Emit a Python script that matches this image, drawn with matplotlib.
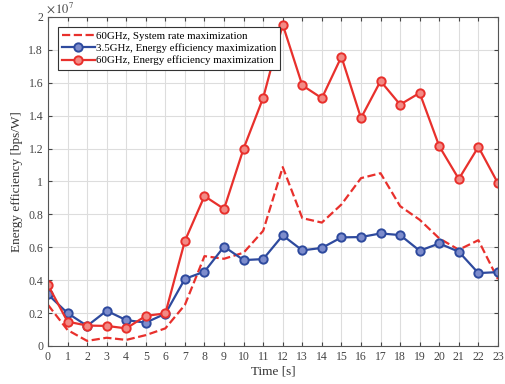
import matplotlib
matplotlib.use("Agg")
import matplotlib.pyplot as plt
from matplotlib.ticker import FuncFormatter

plt.rcParams["font.family"] = ["Liberation Serif", "DejaVu Serif"]
plt.rcParams["mathtext.fontset"] = "stix"

time_s = list(range(24))
rate_60 = [0.25e7, 0.097e7, 0.031e7, 0.05e7, 0.037e7, 0.066e7, 0.107e7, 0.25e7,
           0.546e7, 0.53e7, 0.567e7, 0.70e7, 1.087e7, 0.777e7, 0.75e7, 0.86e7,
           1.02e7, 1.05e7, 0.85e7, 0.767e7, 0.654e7, 0.585e7, 0.643e7, 0.406e7]
ee_35 = [0.313e7, 0.20e7, 0.122e7, 0.214e7, 0.157e7, 0.142e7, 0.196e7, 0.408e7,
         0.452e7, 0.604e7, 0.522e7, 0.528e7, 0.672e7, 0.581e7, 0.596e7, 0.66e7,
         0.662e7, 0.684e7, 0.674e7, 0.579e7, 0.623e7, 0.573e7, 0.443e7, 0.449e7]
ee_60 = [0.371e7, 0.148e7, 0.124e7, 0.122e7, 0.107e7, 0.183e7, 0.198e7, 0.639e7,
         0.911e7, 0.833e7, 1.20e7, 1.508e7, 1.953e7, 1.584e7, 1.506e7, 1.758e7,
         1.385e7, 1.61e7, 1.467e7, 1.538e7, 1.214e7, 1.015e7, 1.21e7, 0.989e7]

labels = ["60GHz, System rate maximization",
          "3.5GHz, Energy efficiency maximization",
          "60GHz, Energy efficiency maximization"]

red = "#E8302C"
blue = "#2E4A9E"

fig = plt.figure(figsize=(5.05, 3.84), dpi=100)
ax = fig.add_axes([0.095, 0.099, 0.891, 0.857])

ax.plot(time_s, rate_60, "--", color=red, lw=1.6, label=labels[0])
ax.plot(time_s, ee_35, "-o", color=blue, lw=1.6, ms=6, mfc="#7d8ccc",
        mec=blue, mew=1.4, label=labels[1])
ax.plot(time_s, ee_60, "-o", color=red, lw=1.6, ms=6, mfc="#f28a85",
        mec=red, mew=1.4, label=labels[2])

ax.set_xlim(0, 23)
ax.set_ylim(0, 2e7)
ax.set_xticks(time_s)
ax.set_yticks([i * 0.2e7 for i in range(11)])
ax.yaxis.set_major_formatter(FuncFormatter(lambda v, p: f"{v / 1e7:g}"))
ax.text(-0.005, 1.005, r"$\times\,10^{7}$", transform=ax.transAxes,
        fontsize=9, color="#444444", ha="left", va="bottom")

ax.grid(True, color="#dddddd", lw=0.8)
ax.tick_params(direction="in", top=True, right=True, labelsize=8.5,
               colors="#444444", length=3)
for s in ax.spines.values():
    s.set_color("#555555")
    s.set_linewidth(0.8)

ax.set_xlabel("Time [s]", fontsize=9.5, color="#333333", labelpad=2)
ax.set_ylabel("Energy efficiency [bps/W]", fontsize=9.5, color="#333333",
              labelpad=4)

leg = ax.legend(loc="upper left", fontsize=7.8, fancybox=False,
                edgecolor="#333333", framealpha=1, handlelength=3.0,
                handletextpad=0.1, borderpad=0.4, labelspacing=0.25,
                borderaxespad=0.9)
leg.get_frame().set_linewidth(0.8)

fig.savefig("out.png", dpi=100)
